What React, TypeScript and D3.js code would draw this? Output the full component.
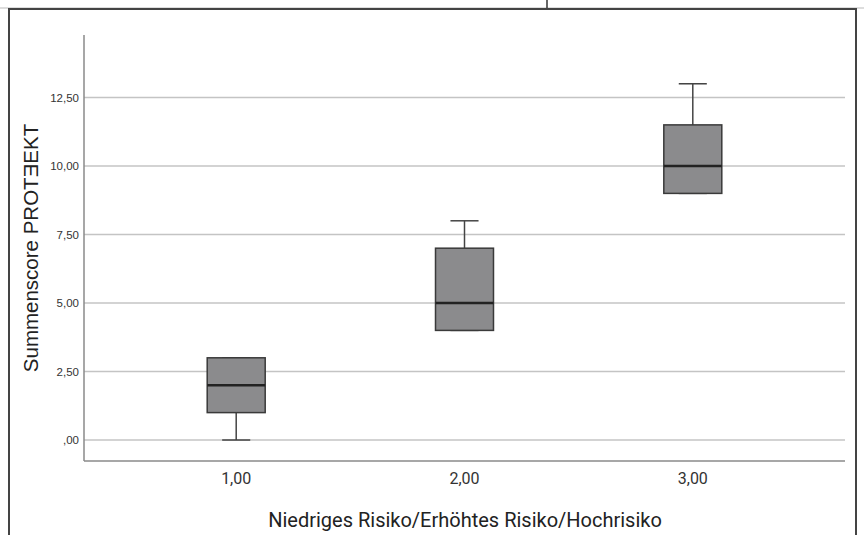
import React from "react";
import * as d3 from "d3";

const categories = [1, 2, 3];
const categoryLabels = ["1,00", "2,00", "3,00"];
const whiskerLow = [0, 4, 9];
const q1 = [1, 4, 9];
const medians = [2, 5, 10];
const q3 = [3, 7, 11.5];
const whiskerHigh = [3, 8, 13];
const yTicks = [0, 2.5, 5, 7.5, 10, 12.5];
const yTickLabels = [",00", "2,50", "5,00", "7,50", "10,00", "12,50"];
const yTitle = "Summenscore PROTƎEKT";
const xTitle = "Niedriges Risiko/Erhöhtes Risiko/Hochrisiko";

const W = 864;
const H = 535;
const plotLeft = 84;
const plotRight = 845;
const plotTop = 35;
const plotBottom = 461;

export default function App() {
  const x = d3.scaleLinear().domain([1 / 3, 11 / 3]).range([plotLeft, plotRight]);
  const y = d3.scaleLinear().domain([-0.766, 14.78]).range([plotBottom, plotTop]);
  const step = x(2) - x(1);
  const boxW = step * 0.254;
  const capW = step * 0.123;
  const sans = "'Liberation Sans', Arial, sans-serif";
  const cond = "Roboto, 'Liberation Sans', sans-serif";

  return (
    <svg
      width={W}
      height={H}
      style={{ position: "absolute", left: 0, top: 0, background: "#fff" }}
    >
      <rect x={0} y={0} width={W} height={H} fill="#fff" />
      {/* frame */}
      <line x1={0} x2={W} y1={8} y2={8} stroke="#bbb" strokeWidth={1} />
      <line x1={547} x2={547} y1={0} y2={9} stroke="#333" strokeWidth={1.5} />
      <path
        d={`M9,${H + 2} L9,9 L856,9 L856,${H + 2}`}
        fill="none"
        stroke="#444"
        strokeWidth={2}
      />
      {/* gridlines */}
      {yTicks.map((t) => (
        <line
          key={"g" + t}
          x1={plotLeft}
          x2={plotRight}
          y1={y(t)}
          y2={y(t)}
          stroke="#c4c4c4"
          strokeWidth={1.5}
        />
      ))}
      {/* axes */}
      <line x1={plotLeft} x2={plotLeft} y1={plotTop} y2={plotBottom} stroke="#8a8a8a" strokeWidth={1.5} />
      <line x1={plotLeft} x2={plotRight} y1={plotBottom} y2={plotBottom} stroke="#8a8a8a" strokeWidth={1.5} />
      {/* y tick labels */}
      {yTicks.map((t, i) => (
        <text
          key={"yl" + t}
          x={79}
          y={y(t)}
          dy="0.35em"
          textAnchor="end"
          fontFamily={sans}
          fontSize={11.5}
          fill="#333"
        >
          {yTickLabels[i]}
        </text>
      ))}
      {/* x tick labels */}
      {categories.map((c, i) => (
        <text
          key={"xl" + c}
          x={x(c)}
          y={484}
          textAnchor="middle"
          fontFamily={cond}
          fontSize={16}
          fill="#333"
        >
          {categoryLabels[i]}
        </text>
      ))}
      {/* boxes */}
      {categories.map((c, i) => {
        const cx = x(c);
        return (
          <g key={"b" + c}>
            <line x1={cx} x2={cx} y1={y(whiskerLow[i])} y2={y(q1[i])} stroke="#444" strokeWidth={1.5} />
            <line x1={cx} x2={cx} y1={y(q3[i])} y2={y(whiskerHigh[i])} stroke="#444" strokeWidth={1.5} />
            <line x1={cx - capW / 2} x2={cx + capW / 2} y1={y(whiskerLow[i])} y2={y(whiskerLow[i])} stroke="#444" strokeWidth={1.5} />
            <line x1={cx - capW / 2} x2={cx + capW / 2} y1={y(whiskerHigh[i])} y2={y(whiskerHigh[i])} stroke="#444" strokeWidth={1.5} />
            <rect
              x={cx - boxW / 2}
              y={y(q3[i])}
              width={boxW}
              height={y(q1[i]) - y(q3[i])}
              fill="#8b8b8d"
              stroke="#3a3a3a"
              strokeWidth={1.5}
            />
            <line
              x1={cx - boxW / 2}
              x2={cx + boxW / 2}
              y1={y(medians[i])}
              y2={y(medians[i])}
              stroke="#222"
              strokeWidth={2.5}
            />
          </g>
        );
      })}
      {/* titles */}
      <text
        transform={`translate(30,248) rotate(-90)`}
        textAnchor="middle"
        dominantBaseline="central"
        fontFamily={sans}
        fontSize={20.5}
        fill="#222"
      >
        {yTitle}
      </text>
      <text
        x={465}
        y={527}
        textAnchor="middle"
        fontFamily={cond}
        fontSize={20}
        fill="#222"
      >
        {xTitle}
      </text>
    </svg>
  );
}
